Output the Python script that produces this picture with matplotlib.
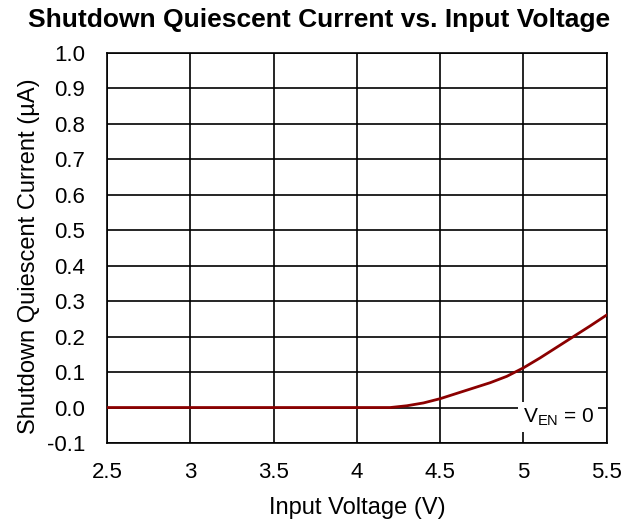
import matplotlib
matplotlib.use("Agg")
import matplotlib.pyplot as plt

plt.rcParams["font.family"] = ["Liberation Sans", "DejaVu Sans"]

# Shutdown quiescent current vs input voltage (EN = 0)
vin = [2.5, 3.0, 3.5, 4.0, 4.2, 4.3, 4.4, 4.5, 4.6, 4.7, 4.8, 4.9, 5.0,
       5.1, 5.2, 5.3, 5.4, 5.5]
iq = [0.0, 0.0, 0.0, 0.0, 0.0, 0.005, 0.013, 0.025, 0.04, 0.055, 0.07,
      0.088, 0.112, 0.14, 0.17, 0.2, 0.23, 0.261]

xticks = [2.5, 3, 3.5, 4, 4.5, 5, 5.5]
xticklabels = ["2.5", "3", "3.5", "4", "4.5", "5", "5.5"]
yticks = [-0.1, 0.0, 0.1, 0.2, 0.3, 0.4, 0.5, 0.6, 0.7, 0.8, 0.9, 1.0]

fig = plt.figure(figsize=(6.38, 5.24), dpi=100)
ax = fig.add_axes([0.168, 0.1546, 0.783, 0.7444])

ax.plot(vin, iq, color="#8B0000", linewidth=2, zorder=3)

ax.set_xlim(2.5, 5.5)
ax.set_ylim(-0.1, 1.0)
ax.set_xticks(xticks)
ax.set_xticklabels(xticklabels)
ax.set_yticks(yticks)
ax.set_yticklabels([f"{v:.1f}" for v in yticks])
ax.tick_params(axis="x", length=0, pad=14, labelsize=16)
ax.tick_params(axis="y", length=0, pad=16, labelsize=16)
ax.grid(True, color="black", linewidth=1.2)
for s in ax.spines.values():
    s.set_linewidth(1.2)

ax.set_xlabel("Input Voltage (V)", fontsize=17, labelpad=10)
ax.set_ylabel("Shutdown Quiescent Current (µA)", fontsize=17)
ax.yaxis.set_label_coords(-0.134, 0.478)
fig.text(0.5, 1 - 20 / 524, "Shutdown Quiescent Current vs. Input Voltage",
         fontsize=19, fontweight="bold", ha="center", va="center")

ax.text(5.21, -0.028, r"V$_{\mathregular{EN}}$ = 0", fontsize=15,
        ha="center", va="center", zorder=4,
        bbox=dict(facecolor="white", edgecolor="none", pad=3))

fig.savefig("out.png", dpi=100)
